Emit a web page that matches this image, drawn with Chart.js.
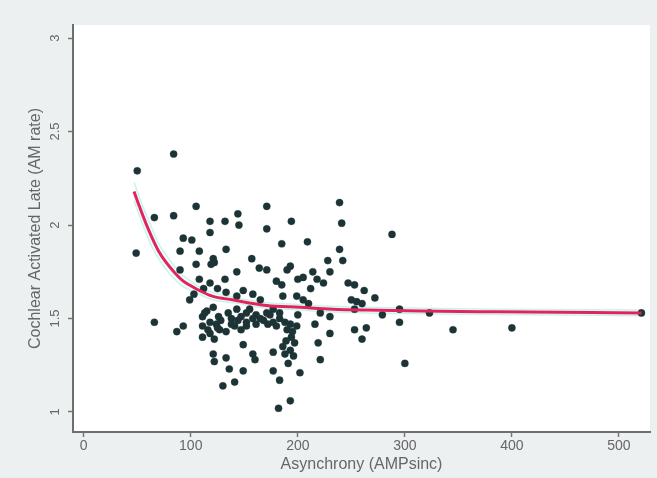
<!DOCTYPE html>
<html>
<head>
<meta charset="utf-8">
<script src="https://cdn.jsdelivr.net/npm/chart.js@4/dist/chart.umd.min.js"></script>
<style>
  html, body { margin: 0; padding: 0; background: #edf0f1; }
  #wrap { width: 657px; height: 478px; }
</style>
</head>
<body>
<div id="wrap"><canvas id="c" width="657" height="478"></canvas></div>
<script>
// Observations: asynchrony (x) against late activation rate (y)
const asyncX = [
  50, 84, 105, 171, 239, 66, 84, 118, 132, 144, 145, 194, 241, 171, 118, 288,
  93, 101, 185, 209, 133, 49, 90, 121, 122, 157, 239, 242, 228, 105, 119, 90,
  164, 171, 193, 143, 132, 214, 205, 200, 108, 118, 180, 185, 224, 247, 253,
  133, 149, 143, 158, 186, 199, 210, 250, 255, 272, 121, 115, 111, 118, 111,
  124, 126, 135, 143, 152, 161, 171, 177, 183, 144, 152, 158, 168, 177, 141,
  152, 127, 118, 111, 122, 133, 161, 172, 183, 188, 193, 199, 216, 230, 221,
  253, 295, 295, 66, 87, 93, 253, 264, 260, 230, 219, 194, 189, 197, 193, 196,
  188, 177, 149, 158, 160, 121, 133, 136, 122, 149, 221, 191, 202, 177, 183,
  130, 141, 182, 193, 300, 323, 345, 400, 521,
  113, 116, 125, 128, 138, 147, 155, 165, 174, 180, 147, 138, 190, 195, 186,
  200, 205, 212, 218, 165, 125, 112, 103, 99, 190, 230, 260, 262, 279, 108
];
const lateRate = [
  2.29, 2.38, 2.10, 2.10, 2.12, 2.04, 2.05, 2.02, 2.02, 2.06, 2.00, 2.02, 2.01, 1.98, 1.96, 1.95,
  1.93, 1.92, 1.90, 1.91, 1.87, 1.85, 1.86, 1.82, 1.80, 1.82, 1.87, 1.81, 1.81, 1.79, 1.79, 1.76,
  1.77, 1.76, 1.78, 1.75, 1.71, 1.75, 1.72, 1.71, 1.71, 1.69, 1.70, 1.68, 1.69, 1.69, 1.68,
  1.64, 1.65, 1.62, 1.63, 1.62, 1.62, 1.58, 1.60, 1.59, 1.61, 1.56, 1.54, 1.51, 1.48, 1.46,
  1.47, 1.51, 1.53, 1.55, 1.53, 1.52, 1.53, 1.55, 1.53, 1.49, 1.48, 1.50, 1.49, 1.48, 1.46,
  1.46, 1.44, 1.42, 1.40, 1.39, 1.43, 1.47, 1.47, 1.50, 1.48, 1.47, 1.46, 1.47, 1.51, 1.53,
  1.55, 1.55, 1.48, 1.48, 1.43, 1.46, 1.44, 1.45, 1.39, 1.42, 1.37, 1.40, 1.38, 1.37, 1.33, 1.30,
  1.31, 1.32, 1.36, 1.31, 1.28, 1.31, 1.29, 1.23, 1.27, 1.22, 1.28, 1.26, 1.21, 1.22, 1.17,
  1.14, 1.16, 1.02, 1.06, 1.26, 1.53, 1.44, 1.45, 1.53,
  1.53, 1.44, 1.45, 1.49, 1.50, 1.51, 1.55, 1.50, 1.52, 1.46, 1.44, 1.47, 1.44, 1.43, 1.35,
  1.52, 1.60, 1.66, 1.71, 1.60, 1.66, 1.66, 1.63, 1.60, 1.76, 1.75, 1.58, 1.65, 1.52, 1.86
];

// Fitted decay curve and its band
const fitX     = [47, 52, 58, 64, 70, 77, 85, 93, 100, 108, 120, 139, 171, 202, 233, 264, 314, 386, 521];
const fitY     = [2.18, 2.10, 2.01, 1.93, 1.86, 1.80, 1.745, 1.70, 1.675, 1.65, 1.62, 1.60, 1.57, 1.56, 1.55, 1.545, 1.54, 1.536, 1.53];
const bandHigh = [2.23, 2.15, 2.06, 1.98, 1.90, 1.84, 1.78, 1.73, 1.70, 1.67, 1.64, 1.615, 1.585, 1.575, 1.565, 1.56, 1.555, 1.55, 1.545];
const bandLow  = [2.13, 2.05, 1.96, 1.88, 1.82, 1.76, 1.71, 1.67, 1.65, 1.63, 1.60, 1.585, 1.555, 1.545, 1.535, 1.53, 1.525, 1.522, 1.515];

const xTicks = [0, 100, 200, 300, 400, 500];
const yTicks = [1, 1.5, 2, 2.5, 3];

const toPts = (xs, ys) => xs.map((x, i) => ({ x: x, y: ys[i] }));

const panel = {
  id: 'panel',
  beforeDraw(chart) {
    const { ctx, chartArea: a } = chart;
    ctx.save();
    ctx.fillStyle = '#edf0f1';
    ctx.fillRect(0, 0, chart.width, chart.height);
    ctx.fillStyle = '#ffffff';
    ctx.fillRect(a.left, a.top, a.right - a.left, a.bottom - a.top);
    ctx.restore();
  }
};

new Chart(document.getElementById('c'), {
  type: 'scatter',
  data: {
    datasets: [
      {
        data: toPts(fitX, bandHigh),
        showLine: true, pointRadius: 0, borderWidth: 1.5,
        borderColor: 'rgba(110,225,205,0.35)', cubicInterpolationMode: 'monotone', fill: '+1',
        backgroundColor: 'rgba(150,235,220,0.10)', order: 3
      },
      {
        data: toPts(fitX, bandLow),
        showLine: true, pointRadius: 0, borderWidth: 1.5,
        borderColor: 'rgba(110,225,205,0.35)', cubicInterpolationMode: 'monotone', fill: false, order: 3
      },
      {
        data: toPts(asyncX, lateRate),
        pointRadius: 3.6, pointHoverRadius: 3.6,
        backgroundColor: '#1d3436', borderColor: 'rgba(29,52,54,0.35)', borderWidth: 1,
        order: 2
      },
      {
        data: toPts(fitX, fitY),
        showLine: true, pointRadius: 0, borderWidth: 3,
        borderColor: '#e3245c', cubicInterpolationMode: 'monotone', fill: false, order: 1
      }
    ]
  },
  options: {
    responsive: false,
    animation: false,
    layout: { padding: { left: 24, top: 25, right: 7, bottom: 3 } },
    plugins: { legend: { display: false }, tooltip: { enabled: false } },
    scales: {
      x: {
        type: 'linear', min: -10, max: 529,
        afterBuildTicks(s) { s.ticks = xTicks.map(v => ({ value: v })); },
        afterFit(s) { s.height = 43; },
        grid: { display: true, drawOnChartArea: false, drawTicks: true, tickLength: 5, color: '#777', tickWidth: 1.5 },
        border: { display: true, color: '#6e6e6e', width: 2 },
        ticks: { color: '#666', font: { family: 'Liberation Sans', size: 14 }, padding: 1, maxRotation: 0,
                 callback: v => String(v) },
        title: { display: true, text: 'Asynchrony (AMPsinc)', color: '#666', font: { family: 'Liberation Sans', size: 16 }, padding: { top: 0, bottom: 1 } }
      },
      y: {
        type: 'linear', min: 0.893, max: 3.07,
        afterBuildTicks(s) { s.ticks = yTicks.map(v => ({ value: v })); },
        afterFit(s) { s.width = 49; },
        grid: { display: true, drawOnChartArea: false, drawTicks: true, tickLength: 5, color: '#777', tickWidth: 1.5 },
        border: { display: true, color: '#6e6e6e', width: 2 },
        ticks: { color: '#666', font: { family: 'Liberation Sans', size: 13 }, padding: 4, minRotation: 90, maxRotation: 90, crossAlign: 'center',
                 callback: v => String(v) },
        title: { display: true, text: 'Cochlear Activated Late (AM rate)', color: '#666', font: { family: 'Liberation Sans', size: 16 }, padding: { top: 2, bottom: 0 } }
      }
    }
  },
  plugins: [panel]
});
</script>
</body>
</html>
